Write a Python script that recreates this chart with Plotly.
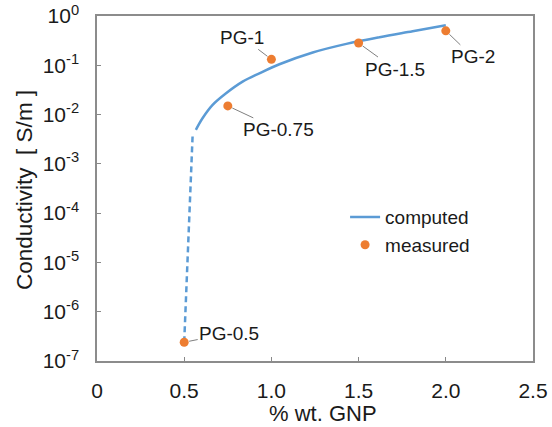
import math
import plotly.graph_objects as go

# computed conductivity (solid part)
comp_x = [0.567, 0.605, 0.663, 0.74, 0.835, 0.931, 1.046, 1.237, 1.43, 1.62, 1.81, 2.0]
comp_y = [0.0049, 0.0084, 0.0157, 0.027, 0.0465, 0.0687, 0.105, 0.182, 0.272, 0.372, 0.49, 0.646]
# computed (dashed, near percolation threshold)
dash_x = [0.5, 0.548]
dash_y = [2.4e-7, 3.6e-3]
# measured samples
meas_x = [0.5, 0.75, 1.0, 1.5, 2.0]
meas_y = [2.4e-7, 0.015, 0.132, 0.283, 0.50]
meas_labels = ["PG-0.5", "PG-0.75", "PG-1", "PG-1.5", "PG-2"]
label_offsets = [(45, -9), (51, 24), (-29, -22), (36, 26), (27, 26)]

x_tickvals = [0, 0.5, 1.0, 1.5, 2.0, 2.5]
x_ticktext = ["0", "0.5", "1.0", "1.5", "2.0", "2.5"]
y_exps = [-7, -6, -5, -4, -3, -2, -1, 0]

BLUE = "#5B9BD5"
ORANGE = "#ED7D31"
TXT = "#1a1a1a"
FONT = "Liberation Sans, Arial, sans-serif"

fig = go.Figure()
fig.add_trace(go.Scatter(x=dash_x, y=dash_y, mode="lines",
                         line=dict(color=BLUE, width=2.5, dash="6px,4px"),
                         showlegend=False, hoverinfo="skip"))
fig.add_trace(go.Scatter(x=comp_x, y=comp_y, mode="lines", name="computed",
                         line=dict(color=BLUE, width=2.5, shape="spline", smoothing=1.0)))
fig.add_trace(go.Scatter(x=meas_x, y=meas_y, mode="markers", name="measured",
                         marker=dict(color=ORANGE, size=9)))

for xv, yv, lab, (ax, ay) in zip(meas_x, meas_y, meas_labels, label_offsets):
    fig.add_annotation(x=xv, y=math.log10(yv), yref="y", xref="x", text=lab,
                       showarrow=True, arrowhead=0, arrowwidth=1, arrowcolor="#808080",
                       ax=ax, ay=ay, standoff=5, borderpad=1,
                       font=dict(size=19, color=TXT, family=FONT))

fig.update_xaxes(range=[0, 2.5], tickvals=x_tickvals, ticktext=x_ticktext,
                 ticks="inside", ticklen=4, tickcolor="#888888", automargin=False,
                 showline=True, linecolor="#8c8c8c", linewidth=1.5, mirror=True,
                 showgrid=False, zeroline=False, ticklabelstandoff=10,
                 tickfont=dict(size=21, color=TXT, family=FONT))
fig.update_yaxes(type="log", range=[-7, 0],
                 tickvals=[10 ** e for e in y_exps],
                 ticktext=["10<sup>%d</sup>" % e for e in y_exps],
                 ticks="inside", ticklen=4, tickcolor="#888888", automargin=False,
                 showline=True, linecolor="#8c8c8c", linewidth=1.5, mirror=True,
                 showgrid=False, zeroline=False, ticklabelstandoff=12,
                 tickfont=dict(size=21, color=TXT, family=FONT))

# axis titles
fig.add_annotation(text="% wt. GNP", xref="paper", yref="paper", x=0.518, y=-0.151,
                   xanchor="center", yanchor="middle", showarrow=False,
                   font=dict(size=22, color=TXT, family=FONT))
fig.add_annotation(text="Conductivity  [ S/m ]", xref="paper", yref="paper", x=-0.165, y=0.496,
                   xanchor="center", yanchor="middle", showarrow=False, textangle=-90,
                   font=dict(size=22.5, color=TXT, family=FONT))

fig.update_layout(width=552, height=427,
                  margin=dict(l=97, r=19, t=16, b=66),
                  paper_bgcolor="white", plot_bgcolor="white",
                  font=dict(family=FONT, size=18, color=TXT),
                  legend=dict(x=0.569, y=0.472, xanchor="left", yanchor="top",
                              bgcolor="rgba(0,0,0,0)", itemwidth=30,
                              font=dict(size=19, color=TXT, family=FONT),
                              tracegroupgap=0))

fig.write_html("out.html", config={"displayModeBar": False},
               post_script="document.body.style.margin='0px';")
